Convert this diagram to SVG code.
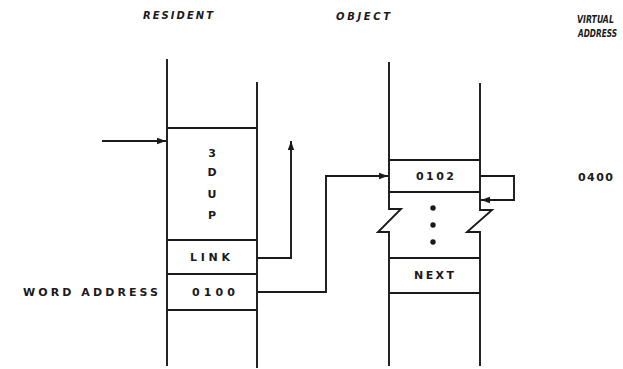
<svg xmlns="http://www.w3.org/2000/svg" width="623" height="369" viewBox="0 0 623 369">
<style>
.ln{fill:none;stroke:#1a1a1a;stroke-width:1.9;stroke-linecap:square}
.cn{fill:none;stroke:#1a1a1a;stroke-width:1.9}
.t{font-family:"DejaVu Sans","Liberation Sans",sans-serif;font-weight:bold;font-size:11px;fill:#1a1a1a}
.h{font-family:"DejaVu Sans","Liberation Sans",sans-serif;font-style:italic;font-weight:bold;font-size:10px;fill:#1a1a1a}
.c{text-anchor:middle}
.dot{fill:#1a1a1a}
</style>
<defs>
<marker id="ah" markerUnits="userSpaceOnUse" markerWidth="10" markerHeight="8" refX="9" refY="4" orient="auto">
<path d="M0,0.8 L9,4 L0,7.2 Z" fill="#1a1a1a"/>
</marker>
</defs>
<rect width="623" height="369" fill="#fff"/>
<g id="headers">
<text class="h" x="143" y="19" textLength="70" lengthAdjust="spacing">RESIDENT</text>
<text class="h" x="336" y="20" textLength="54" lengthAdjust="spacing">OBJECT</text>
<text class="h" transform="translate(577,23) scale(0.78,1)">VIRTUAL</text>
<text class="h" transform="translate(578,37) scale(0.74,1)">ADDRESS</text>
</g>
<g id="resident">
<path class="ln" d="M167,60 V365 M257,83 V367 M167,128 H257 M167,240 H257 M167,274 H257 M167,310 H257"/>
<text class="t c" x="212" y="157">3</text>
<text class="t c" x="212" y="176">D</text>
<text class="t c" x="212" y="198">U</text>
<text class="t c" x="212" y="219">P</text>
</g>
<g id="link">
<text class="t" x="190" y="261" textLength="40" lengthAdjust="spacing">LINK</text>
</g>
<g id="word-address">
<text class="t" x="23" y="296" textLength="135" lengthAdjust="spacing">WORD ADDRESS</text>
<text class="t" x="192" y="296" textLength="43" lengthAdjust="spacing">0100</text>
</g>
<g id="object">
<path class="ln" d="M389,63 V209 H401 L378,232 H389 V365 M480,84 V210 H492 L467,232 H480 V365 M389,160 H480 M389,192 H480 M389,258 H480 M389,293 H480"/>
<text class="t" x="416" y="180" textLength="38" lengthAdjust="spacing">0102</text>
<circle class="dot" cx="433" cy="208" r="2.7"/>
<circle class="dot" cx="433" cy="225" r="2.7"/>
<circle class="dot" cx="433" cy="242" r="2.7"/>
<text class="t" x="414" y="279" textLength="40" lengthAdjust="spacing">NEXT</text>
</g>
<g id="virtual-address">
<text class="t" x="578" y="181" textLength="35" lengthAdjust="spacing">0400</text>
</g>
<g id="connectors">
<path class="cn" d="M102,141 H166" marker-end="url(#ah)"/>
<path class="cn" d="M257,258 H291 V141" marker-end="url(#ah)"/>
<path class="cn" d="M257,292 H326 V176 H388" marker-end="url(#ah)"/>
<path class="cn" d="M480,176 H514 V200 H481" marker-end="url(#ah)"/>
</g>
</svg>
